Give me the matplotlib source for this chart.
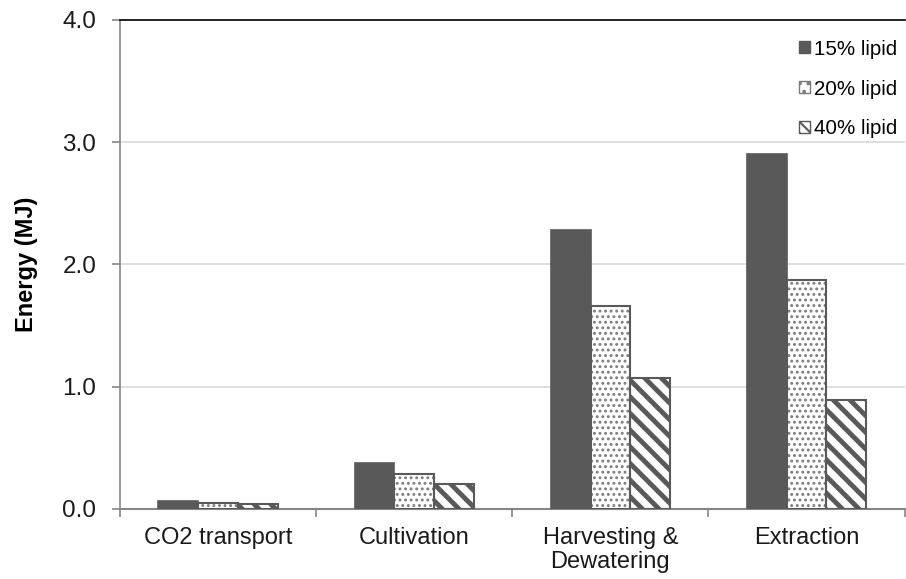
import matplotlib.pyplot as plt
import numpy as np
from matplotlib.patches import Patch

plt.rcParams['font.family'] = ['Liberation Sans', 'DejaVu Sans']

categories = ['CO2 transport', 'Cultivation', 'Harvesting &\nDewatering', 'Extraction']
series = ['15% lipid', '20% lipid', '40% lipid']
lipid15 = [0.065, 0.375, 2.28, 2.90]
lipid20 = [0.05, 0.285, 1.66, 1.87]
lipid40 = [0.04, 0.20, 1.07, 0.89]

fig = plt.figure(figsize=(9.06, 5.79), dpi=100)
ax = fig.add_axes([0.1325, 0.121, 0.866, 0.8445])

x = np.arange(len(categories))
w = 0.203
dark = '#595959'

ax.bar(x - w, lipid15, w, color=dark, edgecolor=dark, linewidth=1.2, zorder=3)

# dotted bars: hatch first, outline on top
b20 = ax.bar(x, lipid20, w, color='white', edgecolor='#7a7a7a', hatch='...', linewidth=0, zorder=3)
ax.bar(x, lipid20, w, color='none', edgecolor=dark, linewidth=1.5, zorder=4)

b40 = ax.bar(x + w, lipid40, w, color='white', edgecolor=dark, hatch='\\\\', linewidth=1.5, zorder=3)

for p in b20:
    p.set_hatch_linewidth(1.3)
for p in b40:
    p.set_hatch_linewidth(3.5)

handles = [
    Patch(facecolor=dark, edgecolor=dark, label=series[0]),
    Patch(facecolor='white', edgecolor='#7a7a7a', hatch='..', label=series[1]),
    Patch(facecolor='white', edgecolor=dark, hatch='\\\\\\', label=series[2]),
]
leg = ax.legend(handles=handles, loc='upper right', frameon=False, fontsize=14.8,
                handlelength=0.55, handleheight=0.55, handletextpad=0.2,
                labelspacing=1.02, borderpad=0.0, borderaxespad=0,
                bbox_to_anchor=(0.991, 0.96))
for p in leg.get_patches():
    p.set_hatch_linewidth(1.5)

ax.set_xlim(-0.5, len(categories) - 0.5)
ax.set_ylim(0, 4.0)
ax.set_yticks([0, 1, 2, 3, 4])
ax.set_yticklabels(['0.0', '1.0', '2.0', '3.0', '4.0'], fontsize=17.5, color='#1a1a1a')
ax.set_xticks(x)
ax.set_xticklabels(categories, fontsize=17, color='#1a1a1a', linespacing=1.1)
ax.set_xticks(np.arange(-0.5, len(categories) - 0.4, 1), minor=True)
ax.tick_params(axis='x', which='major', length=0, pad=13)
ax.tick_params(axis='x', which='minor', length=6, color='#868686', width=1.2)
ax.tick_params(axis='y', length=6, color='#868686', width=1.2, pad=11)
ax.set_ylabel('Energy (MJ)', fontsize=17, fontweight='bold')
ax.yaxis.set_label_coords(-0.105, 0.5)

ax.grid(axis='y', color='#d9d9d9', linewidth=1.2, zorder=0)
ax.spines['left'].set_color('#868686')
ax.spines['left'].set_linewidth(1.2)
ax.spines['bottom'].set_color('#868686')
ax.spines['bottom'].set_linewidth(1.5)
ax.spines['right'].set_visible(False)
ax.spines['top'].set_color('black')
ax.spines['top'].set_linewidth(1.2)

fig.savefig('out.png', dpi=100)
